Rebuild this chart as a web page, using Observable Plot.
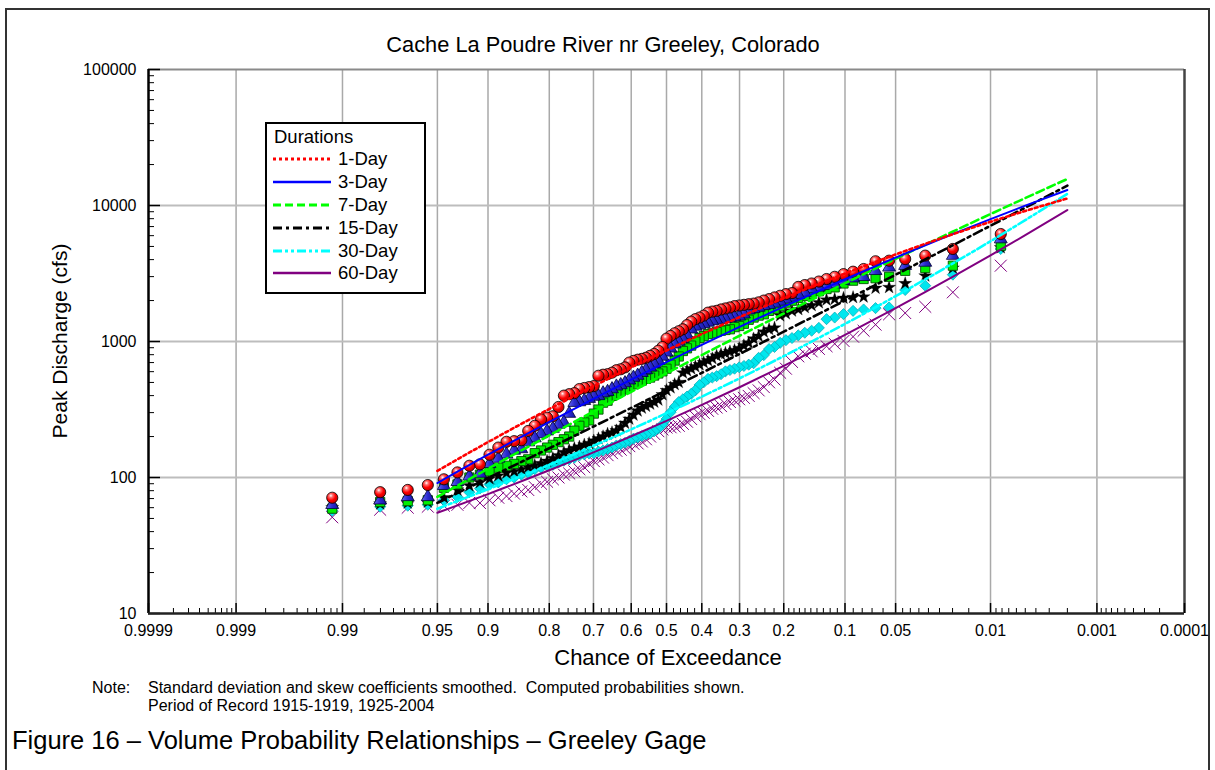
<!DOCTYPE html>
<html><head><meta charset="utf-8">
<script src="https://cdn.jsdelivr.net/npm/d3@7"></script>
<script src="https://cdn.jsdelivr.net/npm/@observablehq/plot@0.6"></script>
<style>
body{margin:0;background:#fff;font-family:"Liberation Sans",Arial,sans-serif;color:#000;}
#wrap{position:relative;width:1215px;height:770px;overflow:hidden;background:#fff;}
#frame{position:absolute;left:5px;top:8px;width:1205px;height:820px;border:2px solid #333;box-sizing:border-box;}
#chart{position:absolute;left:0;top:0;}
.abs{position:absolute;white-space:nowrap;}
#title{left:0;width:1206px;top:32px;text-align:center;font-size:21.8px;line-height:26px;}
#ylab{left:60px;top:341px;font-size:21px;transform:translate(-50%,-50%) rotate(-90deg);}
#xlab{left:668px;top:658px;font-size:22px;transform:translate(-50%,-50%);}
#note1{left:92px;top:679px;font-size:16px;line-height:18px;}
#note2{left:148px;top:679px;font-size:16px;line-height:18px;}
#caption{left:12px;top:725px;font-size:25.5px;line-height:30px;}
#legend{position:absolute;left:265px;top:122px;width:161px;height:172px;border:2px solid #000;box-sizing:border-box;background:#fff;padding-top:2px;}
#legend .lt{font-size:18.5px;line-height:22px;padding-left:7px;}
#legend .row{display:flex;align-items:center;height:22.8px;font-size:18.5px;}
#legend .row svg{margin-left:6px;margin-right:7px;}
</style></head>
<body>
<div id="wrap">
  <div id="frame"></div>
  <div id="chart"></div>
  <div id="title" class="abs">Cache La Poudre River nr Greeley, Colorado</div>
  <div id="ylab" class="abs">Peak Discharge (cfs)</div>
  <div id="xlab" class="abs">Chance of Exceedance</div>
  <div id="note1" class="abs">Note:</div>
  <div id="note2" class="abs">Standard deviation and skew coefficients smoothed.&nbsp; Computed probabilities shown.<br>Period of Record 1915-1919, 1925-2004</div>
  <div id="caption" class="abs">Figure 16 – Volume Probability Relationships – Greeley Gage</div>
  <div id="legend"></div>
</div>
<script>
// ---------- data ----------
const durations = ["1-Day", "3-Day", "7-Day", "15-Day", "30-Day", "60-Day"];

// exceedance probability of each ranked observation (85 years)
const obsProb = [0.0082,0.0199,0.0316,0.0433,0.0550,0.0667,0.0785,0.0902,0.1019,0.1136,
0.1253,0.1370,0.1487,0.1604,0.1721,0.1838,0.1956,0.2073,0.2190,0.2307,
0.2424,0.2541,0.2658,0.2775,0.2892,0.3009,0.3126,0.3244,0.3361,0.3478,
0.3595,0.3712,0.3829,0.3946,0.4063,0.4180,0.4297,0.4415,0.4532,0.4649,
0.4766,0.4883,0.5000,0.5117,0.5234,0.5351,0.5468,0.5585,0.5703,0.5820,
0.5937,0.6054,0.6171,0.6288,0.6405,0.6522,0.6639,0.6756,0.6874,0.6991,
0.7108,0.7225,0.7342,0.7459,0.7576,0.7693,0.7810,0.7927,0.8044,0.8162,
0.8279,0.8396,0.8513,0.8630,0.8747,0.8864,0.8981,0.9098,0.9215,0.9333,
0.9450,0.9567,0.9684,0.9801,0.9918];

// observed peak discharge (cfs), ranked
const obs1Day = [6170,4790,4280,4040,3930,3890,3410,3260,3130,2990,
2880,2760,2670,2600,2520,2270,2230,2170,2110,2050,
2000,1940,1900,1880,1860,1840,1820,1780,1750,1720,
1680,1660,1630,1550,1500,1460,1400,1320,1230,1190,
1150,1100,1050,910,855,810,785,760,745,735,
720,700,645,625,615,590,575,570,560,470,
462,455,447,417,410,400,330,282,275,268,
240,220,188,185,183,166,147,125,122,109,
97,88,81,78,71];
const obs3Day = [5660,4280,3810,3610,3510,3310,2990,2920,2800,2640,
2570,2500,2430,2290,2210,2110,2040,1970,1905,1860,
1830,1780,1740,1700,1585,1530,1515,1495,1470,1445,
1430,1415,1380,1350,1320,1290,1230,1120,1047,1000,
955,891,832,776,724,684,646,617,589,562,
543,519,495,479,468,447,427,417,398,394,
380,367,359,355,295,254,245,229,219,209,
195,182,162,158,148,138,126,107,102,93,
87,72,72,68,63];
const obs7Day = [5060,3610,3470,3310,2990,2920,2880,2800,2670,2500,
2430,2340,2240,2160,2090,1995,1930,1820,1740,1680,
1585,1550,1500,1445,1350,1300,1275,1230,1215,1200,
1175,1150,1135,1096,1060,1000,933,891,851,776,
724,676,631,603,582,562,543,531,516,501,
484,468,447,432,417,398,367,355,316,295,
263,254,240,221,200,191,182,174,166,158,
151,136,132,126,122,118,111,105,100,89,
84,68,67,66,59];
const obs15Day = [4900,3470,3040,2670,2500,2470,2130,2110,2085,2050,
2020,1930,1840,1780,1720,1680,1600,1550,1260,1230,
1175,1096,1047,977,933,891,861,841,822,804,
785,750,724,700,676,653,631,610,589,501,
484,457,437,407,372,359,347,335,324,309,
288,269,251,234,221,214,209,200,193,186,
178,174,168,164,158,153,145,138,132,127,
123,119,115,111,108,103,98,92,87,81,
71,66,65,64,60];
const obs30Day = [4790,3100,2570,2390,1780,1760,1720,1680,1590,1500,
1460,1260,1200,1160,1110,1060,1023,977,912,881,
794,759,692,676,661,646,631,617,603,575,
556,543,531,501,479,437,412,394,376,359,
331,302,269,245,229,219,211,207,202,197,
193,186,180,176,172,166,162,158,155,151,
150,148,145,140,136,133,129,124,122,118,
115,108,105,100,97,92,89,83,78,72,
68,63,62,61,57];
const obs60Day = [3610,2300,1800,1620,1585,1330,1200,1085,1010,962,
923,883,847,813,778,708,631,589,525,501,
462,437,417,398,385,376,367,359,347,335,
327,320,309,299,292,282,269,257,248,240,
237,234,233,226,219,209,200,191,184,178,
177,170,164,160,157,151,146,140,136,132,
126,119,115,111,107,105,100,97,93,90,
85,81,79,76,73,71,68,65,65,63,
62,61,60,58,51];

// computed (smoothed) frequency curves
const curveProb = [0.95,0.9,0.8,0.7,0.6,0.5,0.4,0.3,0.2,0.1,0.05,0.02,0.01,0.005,0.002];
const curve1Day  = [112,182,319,469,645,859,1133,1510,2080,3160,4365,6140,7590,9120,11270];
const curve3Day  = [91,147,256,379,524,706,944,1279,1807,2870,4142,6160,7943,9970,13000];
const curve7Day  = [72,116,204,305,427,584,795,1102,1606,2680,4057,6412,8650,11340,15670];
const curve15Day = [65,99,164,237,325,437,588,810,1181,2000,3098,5090,7100,9645,14000];
const curve30Day = [59,82,124,171,226,297,393,536,781,1347,2155,3738,5462,7810,12170];
const curve60Day = [55,75.5,113,153,201,261,342,461,662,1118,1757,2984,4296,6053,9267];

// axis ticks
const xTickProb = [0.9999,0.999,0.99,0.95,0.9,0.8,0.7,0.6,0.5,0.4,0.3,0.2,0.1,0.05,0.01,0.001,0.0001];
const xTickLabels = ["0.9999","0.999","0.99","0.95","0.9","0.8","0.7","0.6","0.5","0.4","0.3","0.2","0.1","0.05","0.01","0.001","0.0001"];
const xGridProb = [0.999,0.99,0.95,0.9,0.8,0.7,0.6,0.5,0.4,0.3,0.2,0.1,0.05,0.01,0.001];
const xMinorProb = [0.9998,0.9997,0.9996,0.9995,0.9994,0.9993,0.9992,0.9991,
0.998,0.997,0.996,0.995,0.994,0.993,0.992,0.991,
0.985,0.98,0.975,0.97,0.965,0.96,0.955,
0.94,0.93,0.92,0.91,
0.89,0.88,0.87,0.86,0.85,0.84,0.83,0.82,0.81,
0.78,0.76,0.74,0.72,0.68,0.66,0.64,0.62,0.58,0.56,0.54,0.52,
0.48,0.46,0.44,0.42,0.38,0.36,0.34,0.32,0.28,0.26,0.24,0.22,
0.19,0.18,0.17,0.16,0.15,0.14,0.13,0.12,0.11,
0.09,0.08,0.07,0.06,
0.045,0.04,0.035,0.03,0.025,0.02,0.015,
0.009,0.008,0.007,0.006,0.005,0.004,0.003,0.002,
0.0009,0.0008,0.0007,0.0006,0.0005,0.0004,0.0003,0.0002];
const yTicks = [10,100,1000,10000,100000];
const yGrid = [100,1000,10000];
const yMinor = [20,30,40,50,60,70,80,90,200,300,400,500,600,700,800,900,
2000,3000,4000,5000,6000,7000,8000,9000,20000,30000,40000,50000,60000,70000,80000,90000];

// ---------- styles ----------
const colors = ["#ff0000","#0000ff","#00ff00","#000000","#00ffff","#800080"];
const dashes = ["3 3", null, "8 4", "9 4 3 4", "9 3 3 3 3 3", null];
const widths = [2.6, 2, 2.6, 2.6, 2.6, 2];

// ---------- normal probability transform ----------
function qnorm(p){
  const a=[-3.969683028665376e+01,2.209460984245205e+02,-2.759285104469687e+02,1.383577518672690e+02,-3.066479806614716e+01,2.506628277459239e+00];
  const b=[-5.447609879822406e+01,1.615858368580409e+02,-1.556989798598866e+02,6.680131188771972e+01,-1.328068155288572e+01];
  const c=[-7.784894002430293e-03,-3.223964580411365e-01,-2.400758277161838e+00,-2.549732539343734e+00,4.374664141464968e+00,2.938163982698783e+00];
  const d=[7.784695709041462e-03,3.224671290700398e-01,2.445134137142996e+00,3.754408661907416e+00];
  const pl=0.02425, ph=1-pl; let q,r;
  if(p<pl){q=Math.sqrt(-2*Math.log(p));return (((((c[0]*q+c[1])*q+c[2])*q+c[3])*q+c[4])*q+c[5])/((((d[0]*q+d[1])*q+d[2])*q+d[3])*q+1);}
  if(p<=ph){q=p-0.5;r=q*q;return (((((a[0]*r+a[1])*r+a[2])*r+a[3])*r+a[4])*r+a[5])*q/(((((b[0]*r+b[1])*r+b[2])*r+b[3])*r+b[4])*r+1);}
  q=Math.sqrt(-2*Math.log(1-p));return -(((((c[0]*q+c[1])*q+c[2])*q+c[3])*q+c[4])*q+c[5])/((((d[0]*q+d[1])*q+d[2])*q+d[3])*q+1);
}
const zx = p => qnorm(1 - p);

const obsSeries = [obs1Day, obs3Day, obs7Day, obs15Day, obs30Day, obs60Day];
const curveSeries = [curve1Day, curve3Day, curve7Day, curve15Day, curve30Day, curve60Day];
const obsTables = obsSeries.map((s, k) => obsProb.map((p, i) => ({p, q: s[i], dur: durations[k]})));
const curveTables = curveSeries.map((s, k) => curveProb.map((p, i) => ({p, q: s[i], dur: durations[k]})));

const W = 1215, H = 680, ML = 148, MR = 31, MT = 69, MB = 67;
const innerW = W - ML - MR, innerH = H - MT - MB;
const labelMap = new Map(xTickProb.map((p, i) => [zx(p), xTickLabels[i]]));
const X = d => zx(d.p);

const markers = [
  Plot.dot(obsTables[5], {x: X, y: "q", symbol: "times", r: 5.5, stroke: colors[5], strokeWidth: 1}),
  Plot.dot(obsTables[4], {x: X, y: "q", symbol: "diamond2", r: 5, fill: "#00e6ee", stroke: "#00a6b0", strokeWidth: 0.7}),
  Plot.dot(obsTables[3], {x: X, y: "q", symbol: "star", r: 4.1, fill: "#000", stroke: "#000", strokeWidth: 0.3}),
  Plot.dot(obsTables[2], {x: X, y: "q", symbol: "square", r: 5.2, fill: "#00f000", stroke: "#005000", strokeWidth: 0.9}),
  Plot.dot(obsTables[1], {x: X, y: "q", symbol: "triangle", r: 4.8, fill: "url(#triGrad)", stroke: "#00003a", strokeWidth: 0.8}),
  Plot.dot(obsTables[0], {x: X, y: "q", r: 5.6, fill: "url(#sphere)", stroke: "#000", strokeWidth: 0.8})
];
const curves = [5,4,3,2,1,0].map(k => Plot.line(curveTables[k], {
  x: X, y: "q", stroke: colors[k], strokeWidth: widths[k], strokeDasharray: dashes[k], curve: "monotone-x"
}));

const chart = Plot.plot({
  width: W, height: H, marginLeft: ML, marginRight: MR, marginTop: MT, marginBottom: MB,
  style: {fontFamily: '"Liberation Sans", Arial, sans-serif', fontSize: "16px", color: "#000", background: "transparent", overflow: "visible"},
  x: {type: "linear", domain: [zx(0.9999), zx(0.0001)], axis: null},
  y: {type: "log", domain: [10, 100000], axis: null},
  marks: [
    Plot.ruleX(xGridProb.map(zx), {stroke: "#a9a9a9", strokeWidth: 1.5}),
    Plot.ruleY(yGrid, {stroke: "#bdbdbd", strokeWidth: 2}),
    Plot.ruleY([100000], {stroke: "#8a8a8a", strokeWidth: 2}),
    Plot.ruleX([zx(0.0001)], {stroke: "#444", strokeWidth: 2.5}),
    ...markers,
    ...curves,
    Plot.tickX(xMinorProb.map(zx), {stroke: "#000", strokeWidth: 1, insetTop: innerH - 5}),
    Plot.tickX(xTickProb.map(zx), {stroke: "#000", strokeWidth: 1.5, insetTop: innerH - 10}),
    Plot.tickY(yMinor, {stroke: "#000", strokeWidth: 1, insetRight: innerW - 6}),
    Plot.tickY(yTicks, {stroke: "#000", strokeWidth: 1.5, insetRight: innerW - 12}),
    Plot.ruleX([zx(0.9999)], {stroke: "#000", strokeWidth: 2.5}),
    Plot.ruleY([10], {stroke: "#222", strokeWidth: 2.5}),
    Plot.axisX(xTickProb.map(zx), {anchor: "bottom", tickSize: 0, tickPadding: 11, fontSize: 16, label: null, tickFormat: d => labelMap.get(d)}),
    Plot.axisY(yTicks, {anchor: "left", tickSize: 0, tickPadding: 12, fontSize: 16, label: null, tickFormat: d => String(d)})
  ]
});

// gradients for the sphere / triangle markers
const ns = "http://www.w3.org/2000/svg";
const defs = document.createElementNS(ns, "defs");
defs.innerHTML = `
<radialGradient id="sphere" cx="0.38" cy="0.32" r="0.75">
  <stop offset="0" stop-color="#ffffff"/>
  <stop offset="0.22" stop-color="#ff7070"/>
  <stop offset="0.55" stop-color="#ff0000"/>
  <stop offset="1" stop-color="#b00000"/>
</radialGradient>
<linearGradient id="triGrad" x1="0" y1="0" x2="1" y2="0">
  <stop offset="0" stop-color="#6a6af0"/>
  <stop offset="0.5" stop-color="#2b2bd0"/>
  <stop offset="1" stop-color="#14149a"/>
</linearGradient>`;
chart.insertBefore(defs, chart.firstChild);
document.getElementById("chart").appendChild(chart);

// legend
const lg = document.getElementById("legend");
const t = document.createElement("div"); t.className = "lt"; t.textContent = "Durations"; lg.appendChild(t);
durations.forEach((name, k) => {
  const row = document.createElement("div"); row.className = "row";
  row.innerHTML = `<svg width="58" height="10"><line x1="0" y1="5" x2="58" y2="5" stroke="${colors[k]}" stroke-width="${widths[k] + 0.4}" ${dashes[k] ? `stroke-dasharray="${dashes[k]}"` : ""}/></svg><span>${name}</span>`;
  lg.appendChild(row);
});
</script>
</body></html>
